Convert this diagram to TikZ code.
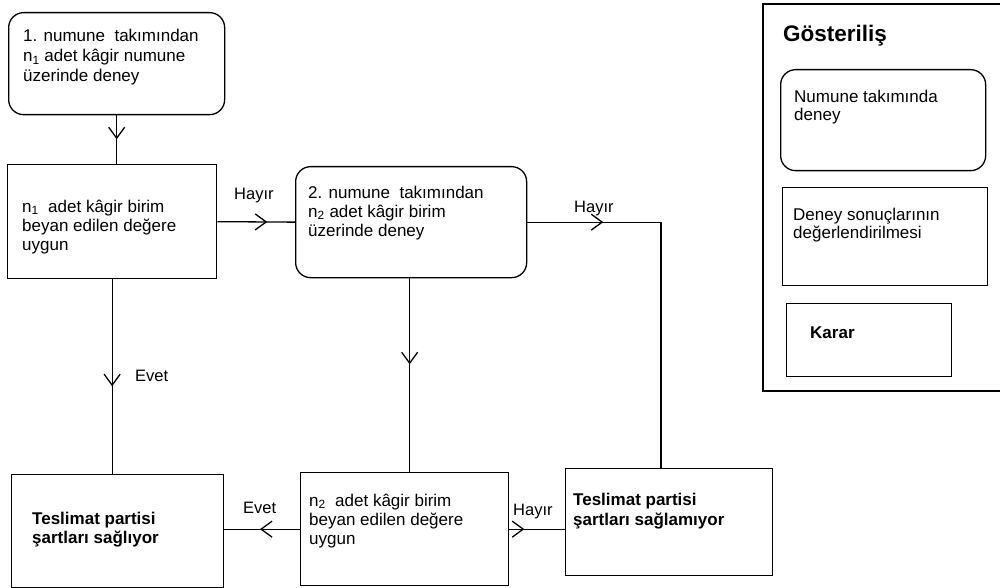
\documentclass[tikz,border=0pt]{standalone}
\usepackage{fontspec}
\setmainfont{Liberation Sans}
\usetikzlibrary{arrows.meta,decorations.markings}
\tikzset{
  box/.style={draw, line width=1.3pt, inner sep=0pt, anchor=north west},
  rbox/.style={box, rounded corners=15pt},
  txt/.style={inner sep=0pt, align=left, anchor=base west, font=\fontsize{17}{19}\selectfont},
  btxt/.style={txt, font=\fontsize{17}{19}\selectfont\bfseries},
  lbl/.style={inner sep=0pt, anchor=base west, font=\fontsize{16.5}{19}\selectfont},
  conn/.style={line width=1.3pt},
  marr/.style={conn, decoration={markings, mark=at position #1 with {\arrow{Straight Barb[length=11pt,width=16pt,line width=1.3pt]}}}, postaction={decorate}}
}
\begin{document}
\begin{tikzpicture}[x=1pt,y=-1pt]
\useasboundingbox (0,0) rectangle (1000,588);
% flow boxes
\node[rbox, minimum width=216pt, minimum height=102pt] (b1) at (8,12) {};
\node[box, minimum width=209pt, minimum height=114pt] (b2) at (7,164) {};
\node[rbox, minimum width=231pt, minimum height=111pt] (b3) at (295,166) {};
\node[box, minimum width=208pt, minimum height=113pt] (b4) at (300,472) {};
\node[box, minimum width=212pt, minimum height=113pt] (b5) at (11,474) {};
\node[box, minimum width=207pt, minimum height=107pt] (b6) at (565,468) {};
% texts (anchored at the baseline of their last line)
\node[txt, font=\fontsize{17}{20}\selectfont] (t1) at (23,82) {1. numune\ \ takımından\\n\textsubscript{1} adet kâgir numune\\üzerinde deney};
\node[txt] (t2) at (22,250) {n\textsubscript{1}\ \ adet kâgir birim\\beyan edilen değere\\uygun};
\node[txt] (t3) at (308,236) {2. numune\ \ takımından\\n\textsubscript{2} adet kâgir birim\\üzerinde deney};
\node[txt] (t4) at (309,544) {n\textsubscript{2}\ \ adet kâgir birim\\beyan edilen değere\\uygun};
\node[btxt] (t5) at (32,543) {Teslimat partisi\\şartları sağlıyor};
\node[btxt, font=\fontsize{17}{20}\selectfont\bfseries] (t6) at (573,525) {Teslimat partisi\\şartları sağlamıyor};
% connectors
\coordinate (c1) at (661,0);
\draw[marr=24pt] (b1.south) -- (b1.south |- b2.north);
\draw[marr=50pt] (b2.east) -- (b3.west);
\draw[marr=76pt] (b3.east) -- (b3.east -| c1) -- (b6.north -| c1);
\draw[marr=86pt] ([xshift=-1.5pt]b3.south) -- ([xshift=-1.5pt]b3.south |- b4.north);
\draw[marr=107pt] (b2.south) -- (b2.south |- b5.north);
\draw[marr=40pt] (b4.west) -- (b4.west -| b5.east);
\draw[marr=15pt] (b4.east) -- (b4.east -| b6.west);
% connector labels
\node[lbl] (l1) at (234,200) {Hayır};
\node[lbl] (l2) at (574,212) {Hayır};
\node[lbl] (l3) at (135,381) {Evet};
\node[lbl] (l4) at (243,513) {Evet};
\node[lbl] (l5) at (513,515) {Hayır};
% legend
\draw[conn] (1002,4) -- (763,4) -- (763,391) -- (1002,391);
\node[inner sep=0pt, anchor=base west, font=\fontsize{22.5}{26}\selectfont\bfseries] (lg) at (783,42) {Gösteriliş};
\node[rbox, minimum width=205pt, minimum height=101pt] (g1) at (780,69) {};
\node[box, minimum width=205pt, minimum height=98pt] (g2) at (782,187) {};
\node[box, minimum width=165pt, minimum height=73pt] (g3) at (786,303) {};
\node[txt, font=\fontsize{17}{18}\selectfont] (gt1) at (794,121) {Numune takımında\\deney};
\node[txt, font=\fontsize{17}{18}\selectfont] (gt2) at (793,238) {Deney sonuçlarının\\değerlendirilmesi};
\node[btxt] (gt3) at (810,338) {Karar};
\end{tikzpicture}
\end{document}
